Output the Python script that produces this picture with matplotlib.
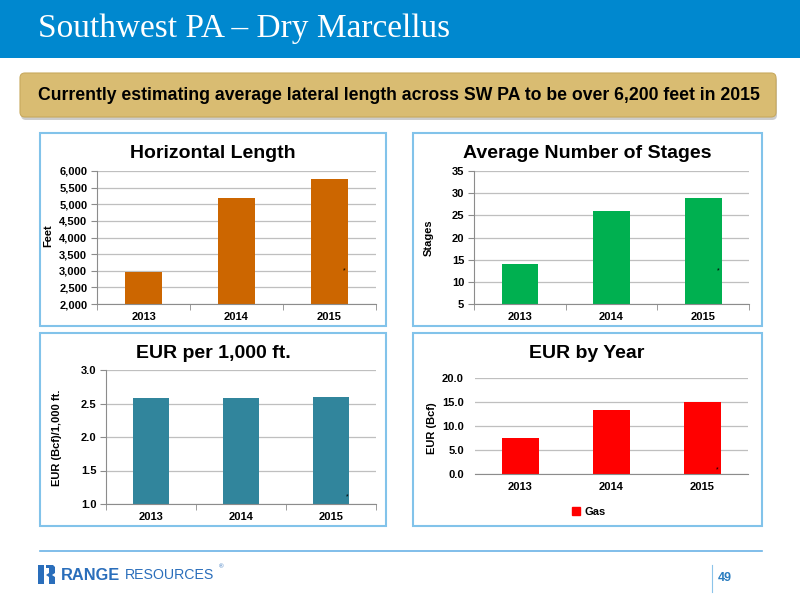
import numpy as np
import matplotlib
matplotlib.use('Agg')
import matplotlib.pyplot as plt
from matplotlib import font_manager
from matplotlib.patches import Rectangle, FancyBboxPatch, Polygon, Patch
from matplotlib.ticker import FuncFormatter

years = ['2013', '2014', '2015']
horiz_length = [2950, 5200, 5770]
stages = [14, 26, 29]
eur_per_1000 = [2.58, 2.58, 2.60]
eur_gas = [7.6, 13.3, 15.0]

# narrow font for the banner if it is there
try:
    font_manager.findfont('Liberation Sans Narrow', fallback_to_default=False)
    narrow = 'Liberation Sans Narrow'
except Exception:
    narrow = 'Liberation Sans'

plt.rcParams['font.family'] = ['Liberation Sans', 'DejaVu Sans']

fig = plt.figure(figsize=(8, 6), dpi=100)

# background axes in pixel units
bg = fig.add_axes([0, 0, 1, 1], zorder=0)
bg.set_xlim(0, 800)
bg.set_ylim(600, 0)
bg.set_axis_off()

# header band
bg.add_patch(Rectangle((0, 0), 800, 58, color='#0088CF', lw=0))
bg.text(38, 29, 'Southwest PA \u2013 Dry Marcellus', color='white',
        fontsize=24, family='Liberation Serif', va='center', ha='left')

# gold banner with shadow
bg.add_patch(FancyBboxPatch((21, 76), 756, 44, boxstyle='round,pad=0,rounding_size=5',
                            fc='#9a9a9a', ec='none', alpha=0.5))
bg.add_patch(FancyBboxPatch((20, 73), 756, 44, boxstyle='round,pad=0,rounding_size=5',
                            fc='#D9BC72', ec='#C8A95E', lw=0.8))
bg.text(399, 96, 'Currently estimating average lateral length across SW PA to be over 6,200 feet in 2015',
        fontsize=14.5 if narrow != 'Liberation Sans' else 12.7, family=narrow,
        fontweight='bold', ha='center', va='center', color='black')

# panel borders
for (x0, y0, x1, y1) in [(40, 133, 386, 326), (413, 133, 762, 326),
                         (40, 333, 386, 526), (413, 333, 762, 526)]:
    bg.add_patch(Rectangle((x0, y0), x1 - x0, y1 - y0, fill=False, ec='#82C3EA', lw=1.5))


def px_rect(l, t, r, b):
    return [l / 800, 1 - b / 600, (r - l) / 800, (b - t) / 600]


def bar_panel(rect, vals, color, ylim, step, fmt, left_spine=True):
    ax = fig.add_axes(rect, zorder=1)
    ax.patch.set_alpha(0)
    x = np.arange(len(years))
    ax.bar(x, vals, width=0.4, color=color, zorder=2)
    ax.set_xlim(-0.5, 2.5)
    ax.set_ylim(*ylim)
    ax.set_yticks(np.arange(ylim[0], ylim[1] + step / 2, step))
    ax.yaxis.set_major_formatter(FuncFormatter(fmt))
    ax.set_xticks(x)
    ax.set_xticklabels(years)
    ax.set_xticks([-0.5, 0.5, 1.5, 2.5], minor=True)
    ax.grid(axis='y', color='#BFBFBF', lw=0.9, zorder=0)
    ax.set_axisbelow(True)
    for s in ['top', 'right']:
        ax.spines[s].set_visible(False)
    ax.spines['bottom'].set_color('#8C8C8C')
    ax.tick_params(axis='x', which='major', length=0, pad=6)
    ax.tick_params(axis='x', which='minor', length=4, color='#8C8C8C')
    if left_spine:
        ax.spines['left'].set_color('#8C8C8C')
        ax.tick_params(axis='y', length=4, color='#8C8C8C', pad=3)
    else:
        ax.spines['left'].set_visible(False)
        ax.tick_params(axis='y', length=0, pad=8)
        ax.tick_params(axis='x', which='minor', length=0)
    for lab in ax.get_xticklabels() + ax.get_yticklabels():
        lab.set_fontsize(8)
        lab.set_fontweight('bold')
    return ax


ax1 = bar_panel(px_rect(97, 171, 376, 304), horiz_length, '#CC6600', (2000, 6000), 500,
                lambda v, p: f'{v:,.0f}')
ax2 = bar_panel(px_rect(474, 171, 749, 304), stages, '#00B050', (5, 35), 5,
                lambda v, p: f'{v:.0f}')
ax3 = bar_panel(px_rect(106, 370, 376, 504), eur_per_1000, '#31859C', (1.0, 3.0), 0.5,
                lambda v, p: f'{v:.1f}')
ax4 = bar_panel(px_rect(475, 378, 748, 474), eur_gas, '#FF0000', (0, 20), 5,
                lambda v, p: f'{v:.1f}', left_spine=False)

# tiny asterisks inside the 2015 bars
for ax, fx, fy in [(ax1, 0.885, 0.25), (ax2, 0.887, 0.25), (ax3, 0.893, 0.05), (ax4, 0.886, 0.04)]:
    ax.text(fx, fy, '*', transform=ax.transAxes, fontsize=5, ha='center', va='center', zorder=3)

# titles and axis labels
titles = [(213, 153, 'Horizontal Length'), (587, 153, 'Average Number of Stages'),
          (213, 353, 'EUR per 1,000 ft.'), (587, 354, 'EUR by Year')]
for tx, ty, t in titles:
    bg.text(tx, ty, t, fontsize=14, fontweight='bold', ha='center', va='center')

ylabels = [(48, 236, 'Feet'), (429, 238, 'Stages'),
           (57, 438, 'EUR (Bcf)/1,000 ft.'), (432, 428, 'EUR (Bcf)')]
for lx, ly, t in ylabels:
    bg.text(lx, ly, t, fontsize=8, fontweight='bold', rotation=90, ha='center', va='center')

# legend for the EUR by Year panel
ax4.legend(handles=[Patch(color='#FF0000', label='Gas')], loc='center',
           bbox_to_anchor=(589, 512), bbox_transform=bg.transData, frameon=False,
           handlelength=0.7, handleheight=0.7, handletextpad=0.4,
           prop={'size': 8, 'weight': 'bold'})

# footer
bg.plot([40, 762], [551, 551], color='#6BB3E6', lw=1.2)
bg.plot([712, 712], [565, 592], color='#8CC4EA', lw=0.8)
bg.text(718, 578, '49', fontsize=9, family=narrow, fontweight='bold', color='#2A7DC0',
        ha='left', va='center')

logo_blue = '#2A6EBB'
bg.add_patch(Polygon([(38, 565), (44, 565), (44, 584), (38, 584)], color=logo_blue, lw=0))
bg.add_patch(Polygon([(46, 565), (53, 565), (55, 567), (55, 573), (52, 575), (55, 577),
                      (55, 584), (49, 584), (49, 577), (46, 575), (49, 573), (49, 568), (46, 568)],
                     color=logo_blue, lw=0))
bg.text(61, 575, 'RANGE', fontsize=11.8, fontweight='bold', color=logo_blue, ha='left', va='center')
bg.text(125, 575, 'RESOURCES', fontsize=10.2, color=logo_blue, ha='left', va='center')
bg.text(219, 567, '\u00ae', fontsize=4.5, color=logo_blue, ha='left', va='center')

fig.savefig('out.png', dpi=100)
